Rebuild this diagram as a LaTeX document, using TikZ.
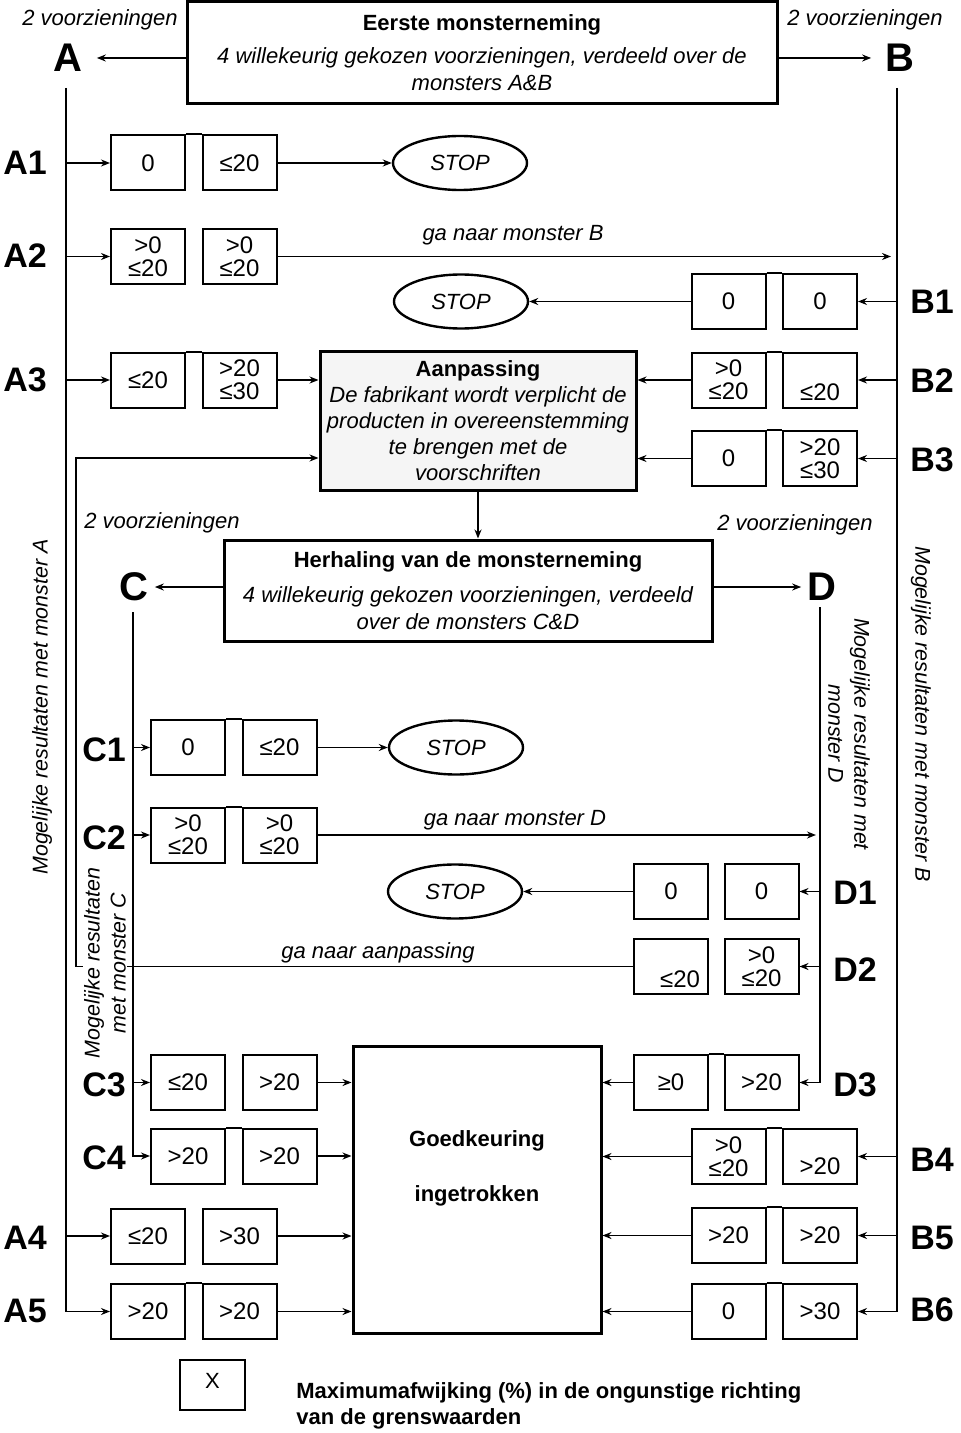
\documentclass[tikz,border=0pt]{standalone}
\usepackage{fontspec}
\setmainfont{Liberation Sans}
\usetikzlibrary{shapes.geometric,arrows.meta}
\newcommand{\vpair}[6]{\node[vb] (#1a) at (#2,#4) {#5}; \node[vb] (#1b) at (#3,#4) {#6};}
\newcommand{\jtop}[1]{\draw[line width=1pt] (#1a.north east) -- (#1b.north west);}
\begin{document}
\begin{tikzpicture}[x=0.5pt,y=-0.5pt,
 ln/.style={line width=0.8pt},
 arr/.style={line width=0.8pt,-{Stealth[length=4.5pt,width=3.5pt]}},
 vb/.style={draw,line width=1pt,minimum width=37pt,minimum height=27.5pt,inner sep=0pt,align=center,font=\fontsize{12}{11.5}\selectfont},
 bigbox/.style={draw,line width=1.5pt,inner sep=0pt,align=center,font=\fontsize{11}{13.5}\selectfont},
 stopnode/.style={draw,ellipse,line width=1.2pt,minimum width=67pt,minimum height=27pt,inner sep=0pt,font=\fontsize{11}{13}\selectfont\itshape},
 rowlab/.style={font=\fontsize{17}{17}\selectfont\bfseries,inner sep=1pt},
 letter/.style={font=\fontsize{20}{20}\selectfont\bfseries,inner sep=2pt},
 note/.style={font=\fontsize{11}{13}\selectfont\itshape,inner sep=1pt},
 rot/.style={font=\fontsize{10.7}{13}\selectfont\itshape,align=center,inner sep=0.5pt}
]
\useasboundingbox (0,0) rectangle (960,1433);

% main boxes
\node[bigbox,minimum width=295pt,minimum height=51pt] (top) at (482,53)
 {{\bfseries Eerste monsterneming}\\[3pt]{\itshape 4 willekeurig gekozen voorzieningen, verdeeld over de}\\{\itshape monsters A\&B}};
\node[bigbox,fill=gray!8,minimum width=158pt,minimum height=69.5pt,font=\fontsize{11}{13}\selectfont] (aanp) at (478,420.5)
 {{\bfseries Aanpassing}\\{\itshape De fabrikant wordt verplicht de}\\{\itshape producten in overeenstemming}\\{\itshape te brengen met de}\\{\itshape voorschriften}};
\node[bigbox,minimum width=244pt,minimum height=50.5pt] (herh) at (468,590.5)
 {{\bfseries Herhaling van de monsterneming}\\[4pt]{\itshape 4 willekeurig gekozen voorzieningen, verdeeld}\\{\itshape over de monsters C\&D}};
\node[bigbox,minimum width=124pt,minimum height=143.5pt] (goed) at (477,1189.5)
 {{\bfseries Goedkeuring}\\[14pt]{\bfseries ingetrokken}\\[10pt]\mbox{}};

% letters
\node[letter] (A) at (68,58) {A};
\node[letter] (B) at (900,58) {B};
\node[letter] (C) at (134,587) {C};
\node[letter] (D) at (822,587) {D};
\node[note] (vA) at (100,20) {2 voorzieningen};
\node[note] (vB) at (865,20) {2 voorzieningen};
\node[note] (vC) at (162,523) {2 voorzieningen};
\node[note] (vD) at (795,525) {2 voorzieningen};

% value boxes
\vpair{a1}{148}{239.5}{163}{0}{≤20}
\vpair{a2}{148}{239.5}{256.5}{>0\\≤20}{>0\\≤20}
\vpair{a3}{148}{239.5}{380}{≤20}{>20\\≤30}
\vpair{a4}{148}{239.5}{1236}{≤20}{>30}
\vpair{a5}{148}{239.5}{1311.5}{>20}{>20}
\vpair{b1}{728.5}{820}{301.5}{0}{0}
\vpair{b2}{728.5}{820}{380}{>0\\≤20}{\mbox{}\\[9pt]≤20}
\vpair{b3}{728.5}{820}{458.5}{0}{>20\\≤30}
\vpair{b4}{728.5}{820}{1156.5}{>0\\≤20}{\mbox{}\\[7pt]>20}
\vpair{b5}{728.5}{820}{1235.5}{>20}{>20}
\vpair{b6}{728.5}{820}{1311.5}{0}{>30}
\vpair{c1}{188}{279.5}{747.5}{0}{≤20}
\vpair{c2}{188}{279.5}{835}{>0\\≤20}{>0\\≤20}
\vpair{c3}{188}{279.5}{1082.5}{≤20}{>20}
\vpair{c4}{188}{279.5}{1156}{>20}{>20}
\vpair{d1}{671}{761.5}{891.5}{0}{0}
\vpair{d2}{671}{761.5}{966.5}{\mbox{}\\[10pt]\hspace*{9pt}≤20}{>0\\≤20}
\vpair{d3}{671}{761.5}{1082.5}{≥0}{>20}
\jtop{a1}\jtop{a3}\jtop{a5}\jtop{b1}\jtop{b2}\jtop{b3}\jtop{b4}\jtop{b5}\jtop{b6}
\jtop{c1}\jtop{c2}\jtop{c4}\jtop{d3}

% stop ellipses
\node[stopnode] (stop1) at (460,163) {STOP};
\node[stopnode] (stop2) at (461,301.5) {STOP};
\node[stopnode] (stop3) at (456,747.5) {STOP};
\node[stopnode] (stop4) at (455,891.5) {STOP};

% row labels
\node[rowlab] (LA1) at (25,163) {A1};
\node[rowlab] (LA2) at (25,256) {A2};
\node[rowlab] (LA3) at (25,380) {A3};
\node[rowlab] (LA4) at (25,1238) {A4};
\node[rowlab] (LA5) at (25,1311) {A5};
\node[rowlab] (LB1) at (932,302) {B1};
\node[rowlab] (LB2) at (932,381) {B2};
\node[rowlab] (LB3) at (932,460) {B3};
\node[rowlab] (LB4) at (932,1160) {B4};
\node[rowlab] (LB5) at (932,1238) {B5};
\node[rowlab] (LB6) at (932,1310) {B6};
\node[rowlab] (LC1) at (104,750) {C1};
\node[rowlab] (LC2) at (104,838) {C2};
\node[rowlab] (LC3) at (104,1085) {C3};
\node[rowlab] (LC4) at (104,1158) {C4};
\node[rowlab] (LD1) at (855,893) {D1};
\node[rowlab] (LD2) at (855,970) {D2};
\node[rowlab] (LD3) at (855,1085) {D3};

% coordinates of the trunk lines
\coordinate (Aln) at (66,88);
\coordinate (Bln) at (897,88);
\coordinate (Cln) at (133,612);
\coordinate (Dln) at (820,607);
\coordinate (Rln) at (76,458);

% connectors from the sampling boxes
\draw[arr,shorten >=5pt] (top.west |- A) -- (A);
\draw[arr,shorten >=5pt] (top.east |- B) -- (B);
\draw[arr] (aanp.south) -- (aanp.south |- herh.north);
\draw[arr,shorten >=1pt] (herh.west |- C) -- (C);
\draw[arr,shorten >=1pt] (herh.east |- D) -- (D);

% A branch
\draw[arr] (Aln) |- (a5a);
\foreach \r in {a1a,a2a,a3a,a4a} {\draw[arr] (\r -| Aln) -- (\r);}
\draw[arr] (a1b) -- (stop1);
\draw[arr,shorten >=3pt] (a2b) -- (a2b -| Bln);
\node[note] (gaB) at (513,235) {ga naar monster B};
\draw[arr] (a3b) -- (a3b -| aanp.west);
\draw[arr] (a4b) -- (a4b -| goed.west);
\draw[arr] (a5b) -- (a5b -| goed.west);

% B branch
\draw[arr] (Bln) |- (b6b);
\foreach \r in {b1b,b2b,b3b,b4b,b5b} {\draw[arr] (\r -| Bln) -- (\r);}
\draw[arr] (b1a) -- (stop2);
\draw[arr] (b2a) -- (b2a -| aanp.east);
\draw[arr] (b3a) -- (b3a -| aanp.east);
\draw[arr] (b4a) -- (b4a -| goed.east);
\draw[arr] (b5a) -- (b5a -| goed.east);
\draw[arr] (b6a) -- (b6a -| goed.east);

% C branch
\draw[arr] (Cln) |- (c4a);
\foreach \r in {c1a,c2a,c3a} {\draw[arr] (\r -| Cln) -- (\r);}
\draw[arr] (c1b) -- (stop3);
\draw[arr,shorten >=2pt] (c2b) -- (c2b -| Dln);
\node[note] (gaD) at (515,820) {ga naar monster D};
\draw[arr] (c3b) -- (c3b -| goed.west);
\draw[arr] (c4b) -- (c4b -| goed.west);

% D branch
\draw[arr] (Dln) |- (d3b);
\foreach \r in {d1b,d2b} {\draw[arr] (\r -| Dln) -- (\r);}
\draw[arr] (d1a) -- (stop4);
\draw[arr] (d3a) -- (d3a -| goed.east);
\draw[arr] (d2a) -| (Rln) -- (Rln -| aanp.west);
\node[note] (gaR) at (378,953) {ga naar aanpassing};

% rotated texts
\node[rot,rotate=90] (mA) at (42,707) {Mogelijke resultaten met monster A};
\node[rot,rotate=-90] (mB) at (921,714) {Mogelijke resultaten met monster B};
\node[rot,rotate=-90] (mD) at (849,734) {Mogelijke resultaten met\\monster D};
\node[rot,rotate=90,fill=white] (mC) at (105,963) {Mogelijke resultaten\\met monster C};

% legend
\node[draw,line width=1pt,minimum width=32.5pt,minimum height=25pt,inner sep=0pt,font=\fontsize{11}{13}\selectfont] (leg) at (212.5,1385) {\raisebox{4pt}{X}};
\node[anchor=west,align=left,inner sep=0pt,font=\fontsize{11}{13}\selectfont\bfseries] (legt) at (296,1406)
 {Maximumafwijking (\%) in de ongunstige richting\\van de grenswaarden};
\end{tikzpicture}
\end{document}
